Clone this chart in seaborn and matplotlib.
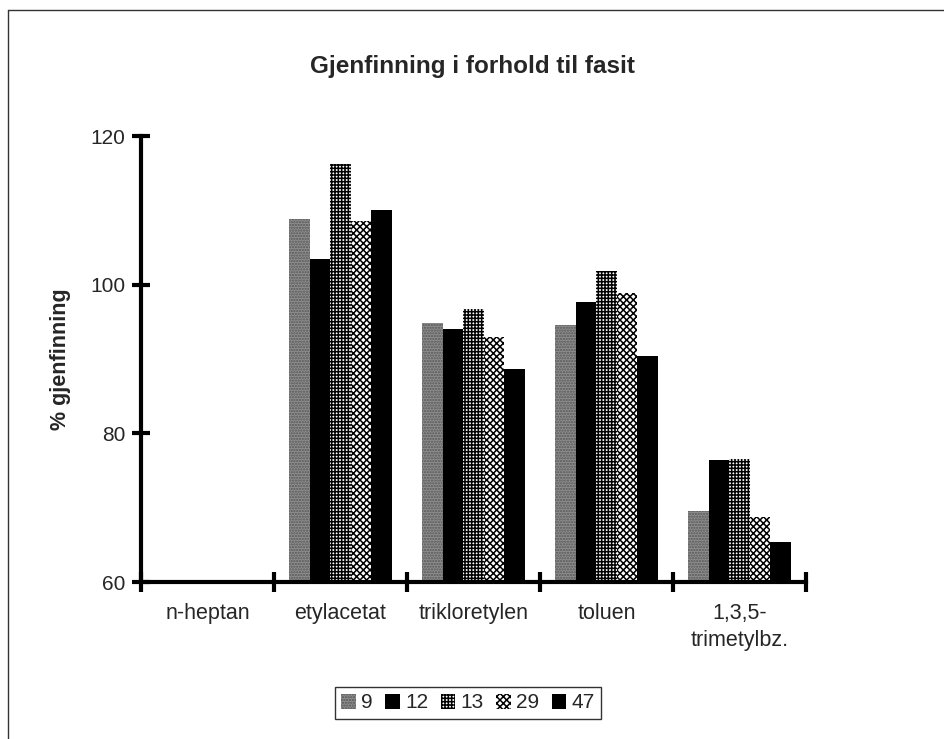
import numpy as np
import pandas as pd
import matplotlib
matplotlib.use("Agg")
import matplotlib.pyplot as plt
from matplotlib.patches import Patch
from matplotlib.lines import Line2D
import seaborn as sns

# ---- data ----
categories = ["n-heptan", "etylacetat", "trikloretylen", "toluen", "1,3,5-\ntrimetylbz."]
series = ["9", "12", "13", "29", "47"]
s9 = [np.nan, 108.8, 94.9, 94.6, 69.6]
s12 = [np.nan, 103.4, 94.1, 97.7, 76.4]
s13 = [np.nan, 116.3, 96.7, 101.9, 76.6]
s29 = [np.nan, 108.5, 93.0, 98.9, 68.8]
s47 = [np.nan, 110.0, 88.6, 90.4, 65.4]
yticks = [60, 80, 100, 120]

values = {"9": s9, "12": s12, "13": s13, "29": s29, "47": s47}
rows = []
for s in series:
    for c, v in zip(categories, values[s]):
        rows.append({"Stoff": c, "Serie": s, "Gjenfinning": v})
df = pd.DataFrame(rows)

sns.set_theme(style="ticks")
plt.rcParams["font.family"] = ["Liberation Sans", "DejaVu Sans"]
plt.rcParams["hatch.linewidth"] = 1.1

styles = {
    "9": dict(facecolor="#8f8f8f", hatch="......", edgecolor="#555555"),
    "12": dict(facecolor="black", hatch=None, edgecolor="black"),
    "13": dict(facecolor="white", hatch="+++++", edgecolor="black"),
    "29": dict(facecolor="white", hatch="xxxxx", edgecolor="black"),
    "47": dict(facecolor="black", hatch=None, edgecolor="black"),
}

fig = plt.figure(figsize=(9.44, 7.39), dpi=100)
ax = fig.add_axes([141 / 944, 1 - 582 / 739, 665 / 944, 446 / 739])

sns.barplot(data=df, x="Stoff", y="Gjenfinning", hue="Serie", order=categories,
            hue_order=series, width=0.77, gap=0, errorbar=None, saturation=1,
            palette=["#999999", "black", "white", "white", "black"], legend=False, ax=ax)

for cont, s in zip(ax.containers, series):
    st = styles[s]
    for p in cont:
        p.set_facecolor(st["facecolor"])
        p.set_edgecolor(st["edgecolor"])
        p.set_hatch(st["hatch"])
        p.set_linewidth(0)

ax.set_ylim(60, 120)
ax.set_xlim(-0.5, 4.5)
ax.set_yticks(yticks)
ax.set_xticks(range(len(categories)))
ax.set_xticklabels(categories)
ax.set_xticks(np.arange(-0.5, len(categories), 1), minor=True)
ax.set_xlabel("")
ax.set_ylabel("% gjenfinning", fontsize=15.5, fontweight="bold")
ax.yaxis.set_label_coords(-0.105, 0.5)

for side in ["top", "right"]:
    ax.spines[side].set_visible(False)
for side in ["left", "bottom"]:
    ax.spines[side].set_linewidth(3)
    ax.spines[side].set_color("black")

ax.tick_params(axis="y", direction="inout", length=13, width=3, labelsize=15, pad=5,
               left=True, color="black")
ax.tick_params(axis="x", which="major", length=0, labelsize=15.5, pad=15, bottom=True)
ax.tick_params(axis="x", which="minor", direction="inout", length=14, width=3,
               bottom=True, color="black")
for t in ax.get_xticklabels():
    t.set_linespacing(1.4)

fig.text(0.5, 1 - 66 / 739, "Gjenfinning i forhold til fasit", ha="center", va="center",
         fontsize=17.5, fontweight="bold")

handles = [Patch(facecolor=styles[s]["facecolor"], edgecolor=styles[s]["edgecolor"],
                 hatch=styles[s]["hatch"], linewidth=0) for s in series]
leg = fig.legend(handles, series, loc="center", bbox_to_anchor=(468 / 944, 1 - 703 / 739),
                 ncol=5, fontsize=15, frameon=True, fancybox=False, edgecolor="black",
                 handlelength=0.7, handleheight=0.7, handletextpad=0.25,
                 columnspacing=0.6, borderpad=0.3)
leg.get_frame().set_linewidth(1)

# page frame lines (left and top)
fig.add_artist(Line2D([8 / 944, 8 / 944], [0, 1 - 10 / 739], transform=fig.transFigure,
                      color="#333333", lw=1))
fig.add_artist(Line2D([8 / 944, 1], [1 - 10 / 739, 1 - 10 / 739], transform=fig.transFigure,
                      color="#333333", lw=1))

fig.savefig("out.png", dpi=100, facecolor="white")
